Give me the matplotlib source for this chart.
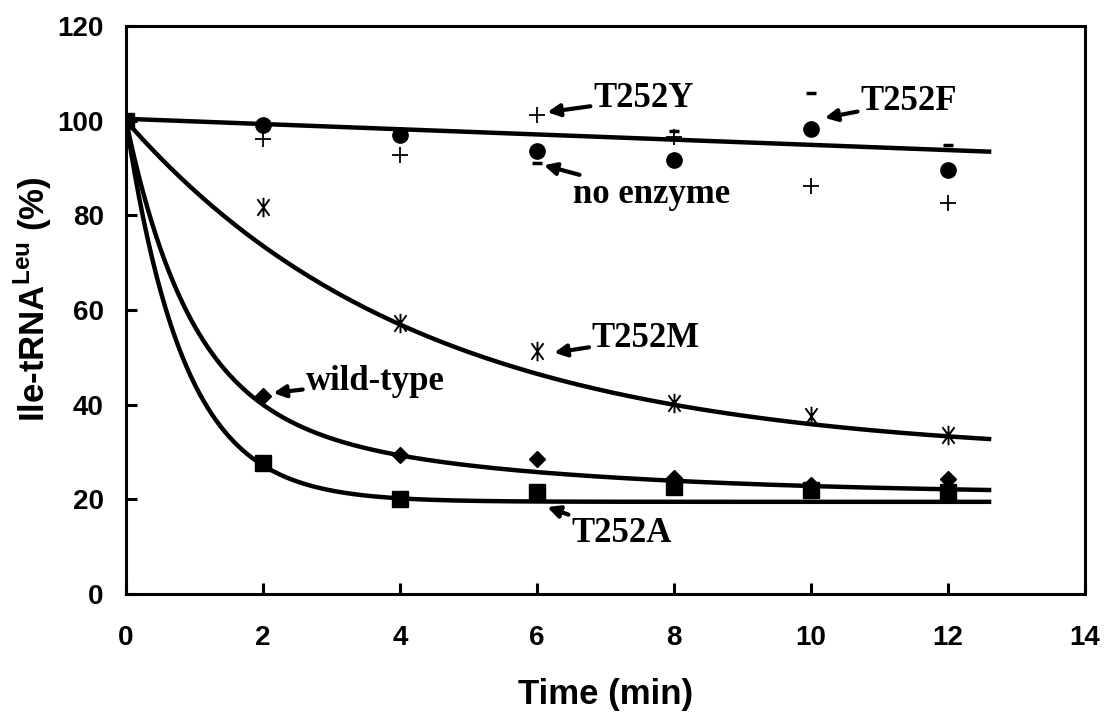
import numpy as np
import matplotlib
matplotlib.use("Agg")
import matplotlib.pyplot as plt
from matplotlib.path import Path

plt.rcParams['mathtext.fontset'] = 'custom'
plt.rcParams['mathtext.rm'] = 'Liberation Sans:bold'
plt.rcParams['mathtext.bf'] = 'Liberation Sans:bold'

# ---- data ----
time = [0, 2, 4, 6, 8, 10, 12]
no_enzyme = [100, 99.5, 97.5, 91.0, 97.9, 105.8, 94.8]
t252f = [100, 99.0, 96.9, 93.7, 91.6, 98.3, 89.5]
t252y = [100, 96.2, 92.7, 101.3, 96.5, 86.2, 82.6]
t252m = [100, 81.8, 57.2, 51.3, 40.3, 37.7, 33.7]
wild_type = [100, 41.8, 29.3, 28.5, 24.5, 23.0, 24.3]
t252a = [100, 27.8, 20.1, 21.5, 22.6, 22.0, 21.5]

# fitted curve parameters (plateau, amplitudes, rates)
flat_fit = [100.4, -0.55]                 # intercept, slope
m_fit = [29.0, 71.0, 0.233]               # plateau, amp, rate
wt_fit = [21.0, 59.9, 1.07, 19.1, 0.234]  # plateau, amp1, k1, amp2, k2
a_fit = [19.5, 80.5, 1.173]               # plateau, amp, rate
t_end = 12.6

x_ticks = [0, 2, 4, 6, 8, 10, 12, 14]
y_ticks = [0, 20, 40, 60, 80, 100, 120]

# asterisk marker: vertical bar plus a narrow X
ast = Path([(0, -1), (0, 1), (-0.62, -0.85), (0.62, 0.85), (-0.62, 0.85), (0.62, -0.85)],
           [Path.MOVETO, Path.LINETO, Path.MOVETO, Path.LINETO, Path.MOVETO, Path.LINETO])

fig = plt.figure(figsize=(11.12, 7.15), dpi=100)
ax = fig.add_axes([0.1133, 0.169, 0.8624, 0.7946])

tt = np.linspace(0, t_end, 400)
lw = 3.2
ax.plot(tt, flat_fit[0] + flat_fit[1] * tt, color='k', lw=lw)
ax.plot(tt, m_fit[0] + m_fit[1] * np.exp(-m_fit[2] * tt), color='k', lw=lw)
ax.plot(tt, wt_fit[0] + wt_fit[1] * np.exp(-wt_fit[2] * tt) + wt_fit[3] * np.exp(-wt_fit[4] * tt), color='k', lw=lw)
ax.plot(tt, a_fit[0] + a_fit[1] * np.exp(-a_fit[2] * tt), color='k', lw=lw)

ax.plot(time, no_enzyme, ls='none', marker='_', ms=7, mew=2.5, color='k')
ax.plot(time, t252f, ls='none', marker='o', ms=11, color='k')
ax.plot(time, t252y, ls='none', marker='+', ms=11, mew=1.3, color='k')
ax.plot(time, t252m, ls='none', marker=ast, ms=14, mew=1.4, color='k', fillstyle='none')
ax.plot(time, wild_type, ls='none', marker='D', ms=8, color='k')
ax.plot(time, t252a, ls='none', marker='s', ms=11, color='k')

ax.set_xlim(0, 14)
ax.set_ylim(0, 120)
ax.set_xticks(x_ticks)
ax.set_yticks(y_ticks)
ax.tick_params(direction='in', length=8, width=2.2, labelsize=20)
for lab in ax.get_xticklabels() + ax.get_yticklabels():
    lab.set_fontfamily('Liberation Sans')
    lab.set_fontweight('bold')
for s in ax.spines.values():
    s.set_linewidth(2.2)
ax.tick_params(axis='x', pad=22)
ax.tick_params(axis='y', pad=16)

ax.set_xlabel('Time (min)', fontsize=25, fontweight='bold', family='Liberation Sans', labelpad=20)
ax.set_ylabel(r'Ile-tRNA$^{\mathbf{Leu}}$ (%)', fontsize=25, fontweight='bold', family='Liberation Sans', labelpad=-2)
ax.yaxis.set_label_coords(-0.075, 0.52)

tfont = dict(family='Liberation Serif', fontweight='bold', fontsize=25, va='center', ha='left')
arrow = dict(arrowstyle='-|>', lw=3, color='k', mutation_scale=18, shrinkA=0, shrinkB=0)

ax.annotate('T252Y', xy=(6.15, 101.8), xytext=(6.82, 104.6), arrowprops=arrow, **tfont)
ax.annotate('T252F', xy=(10.2, 100.6), xytext=(10.72, 104.0), arrowprops=arrow, **tfont)
ax.annotate('no enzyme', xy=(6.1, 90.6), xytext=(6.52, 84.5), arrowprops=arrow, **tfont)
ax.annotate('T252M', xy=(6.25, 51.0), xytext=(6.8, 54.0), arrowprops=arrow, **tfont)
ax.annotate('wild-type', xy=(2.15, 42.5), xytext=(2.62, 45.0), arrowprops=arrow, **tfont)
ax.annotate('T252A', xy=(6.15, 18.4), xytext=(6.5, 12.8), arrowprops=arrow, **tfont)

fig.savefig('out.png', dpi=100)
